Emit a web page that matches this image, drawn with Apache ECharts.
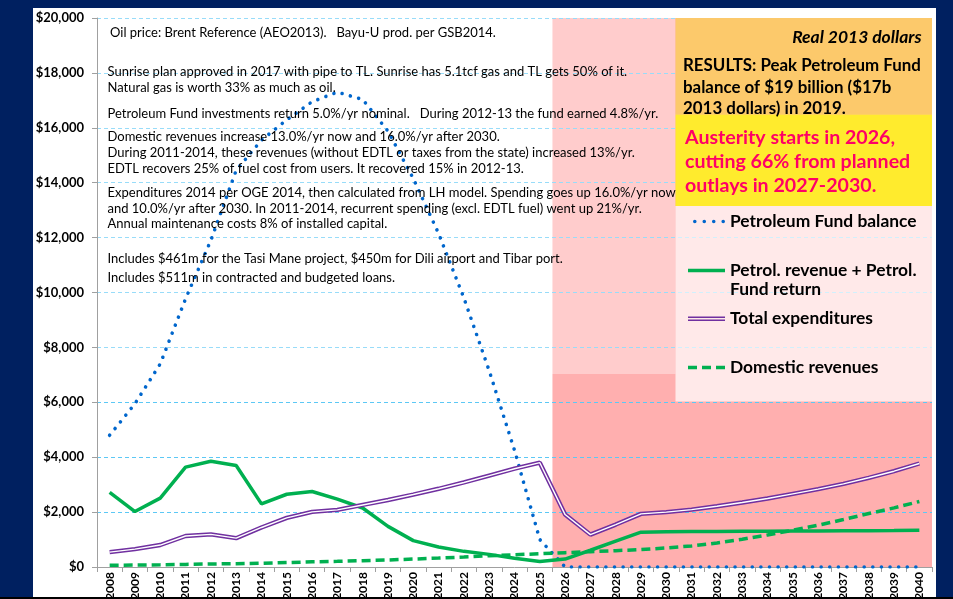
<!DOCTYPE html>
<html>
<head>
<meta charset="utf-8">
<title>Petroleum Fund balance, revenues and expenditures</title>
<script src="https://cdn.jsdelivr.net/npm/echarts@6/dist/echarts.min.js"></script>
<style>
  html, body { margin: 0; padding: 0; background: #002060; }
  #chart { width: 953px; height: 599px; }
</style>
</head>
<body>
<div id="chart"></div>
<script>
// ---- data (millions, real 2013 dollars) ----
var years = ['2008','2009','2010','2011','2012','2013','2014','2015','2016','2017','2018',
  '2019','2020','2021','2022','2023','2024','2025','2026','2027','2028','2029','2030',
  '2031','2032','2033','2034','2035','2036','2037','2038','2039','2040'];
var fundBalance = [4800, 5950, 7400, 9770, 11900, 14450, 15550, 16290, 16950, 17300, 17030,
  15880, 14150, 12150, 9800, 7150, 4250, 1000, 0, 0, 0, 0, 0, 0, 0, 0, 0, 0, 0, 0, 0, 0, 0];
var petrolRevenue = [2720, 2020, 2510, 3640, 3850, 3700, 2300, 2650, 2750, 2470, 2150,
  1480, 960, 730, 570, 460, 320, 200, 290, 610, 940, 1270, 1280, 1290, 1295, 1300, 1305,
  1310, 1315, 1320, 1325, 1330, 1340];
var totalExpenditures = [540, 650, 800, 1130, 1190, 1050, 1440, 1790, 2010, 2080, 2260,
  2440, 2640, 2850, 3080, 3330, 3580, 3800, 1910, 1180, 1545, 1935, 2000, 2090, 2215, 2350,
  2495, 2665, 2835, 3030, 3250, 3490, 3770];
var domesticRevenues = [60, 70, 80, 95, 110, 120, 135, 160, 190, 205, 230, 255, 290, 325,
  365, 410, 445, 485, 523, 560, 596, 633, 694, 767, 876, 1010, 1168, 1339, 1521, 1728,
  1947, 2154, 2385];
var austerityStart = '2026';
var yMax = 20000, yStep = 2000;

var seriesNames = ['Petroleum Fund balance', 'Petrol. revenue + Petrol. Fund return',
  'Total expenditures', 'Domestic revenues'];

var notes = [
  'Oil price: Brent Reference (AEO2013).   Bayu-U prod. per GSB2014.',
  'Sunrise plan approved in 2017 with pipe to TL. Sunrise has 5.1tcf gas and TL gets 50% of it.',
  'Natural gas is worth 33% as much as oil.',
  'Petroleum Fund investments return 5.0%/yr nominal.   During 2012-13 the fund earned 4.8%/yr.',
  'Domestic revenues increase 13.0%/yr now and 16.0%/yr after 2030.',
  'During 2011-2014, these revenues (without EDTL or taxes from the state) increased 13%/yr.',
  'EDTL recovers 25% of fuel cost from users. It recovered 15% in 2012-13.',
  'Expenditures 2014 per OGE 2014, then calculated from LH model. Spending goes up 16.0%/yr now',
  'and 10.0%/yr after 2030. In 2011-2014, recurrent spending (excl. EDTL fuel) went up 21%/yr.',
  'Annual maintenance costs 8% of installed capital.',
  'Includes $461m for the Tasi Mane project, $450m for Dili airport and Tibar port.',
  'Includes $511m in contracted and budgeted loans.'
];
var unitsNote = 'Real 2013 dollars';
var resultLines = ['RESULTS: Peak Petroleum Fund', 'balance of $19 billion ($17b', '2013 dollars) in 2019.'];
var austerityLines = ['Austerity starts in 2026,', 'cutting 66% from planned', 'outlays in 2027-2030.'];

// ---- layout ----
var FONT = 'Lato';
var noteY = [33.3, 72.3, 88, 114.3, 137.3, 152.7, 168.7, 193.3, 208.7, 224, 259, 278.3];
var legendY = [220, 269, 317.3, 366];

function txt(x, y, text, font, fill, align) {
  return { type: 'text', x: x, y: y, z: 10, silent: true,
    style: { text: text, font: font, fill: fill || '#000', align: align || 'left', verticalAlign: 'middle' } };
}
function box(x, y, w, h, fill, z) {
  return { type: 'rect', z: z, silent: true, shape: { x: x, y: y, width: w, height: h }, style: { fill: fill } };
}

var graphics = [
  box(33, 8, 903, 589, '#ffffff', -10),
  box(98, 18, 577.5, 356, 'rgba(255,255,255,0.37)', 3),
  box(675.5, 18, 256.5, 96.5, '#FCC96B', 3),
  box(675.5, 114.5, 256.5, 91.5, '#FFEB2D', 3),
  box(675.5, 206, 256.5, 195.5, 'rgba(255,255,255,0.72)', 3),
  box(0, 597, 953, 2, '#000000', 20)
];
notes.forEach(function (t, i) {
  graphics.push(txt(i === 0 ? 110 : 107.5, noteY[i], t, '13px ' + FONT));
});
graphics.push(txt(921.5, 37.7, unitsNote, 'italic bold 17.5px ' + FONT, '#000', 'right'));
resultLines.forEach(function (t, i) {
  graphics.push(txt(683, 66 + i * 21.2, t, 'bold 16.9px ' + FONT));
});
austerityLines.forEach(function (t, i) {
  graphics.push(txt(685, 137.7 + i * 24, t, 'bold 19.6px ' + FONT, '#FF0066'));
});
graphics.push(txt(730, legendY[1] + 20.3, 'Fund return', 'bold 17.4px ' + FONT));

// legend icons drawn as paths so they match the line styles of the series
var ICON_DOTS = 'path://M0,1.8a1.8,1.8 0 1,0 3.6,0a1.8,1.8 0 1,0 -3.6,0Z' +
  'M9.5,1.8a1.8,1.8 0 1,0 3.6,0a1.8,1.8 0 1,0 -3.6,0Z' +
  'M19,1.8a1.8,1.8 0 1,0 3.6,0a1.8,1.8 0 1,0 -3.6,0Z' +
  'M28.5,1.8a1.8,1.8 0 1,0 3.6,0a1.8,1.8 0 1,0 -3.6,0Z';
var ICON_SOLID = 'path://M0,0H37V3.5H0Z';
var ICON_DOUBLE = 'path://M0,0H37V1.5H0Z M0,3H37V4.5H0Z';
var ICON_DASH = 'path://M0,0H9V3.5H0Z M14,0H23V3.5H14Z M28,0H37V3.5H28Z';

function legendFor(i, icon, color, width) {
  return {
    orient: 'vertical', left: 725 - width, top: legendY[i] - 7, padding: 0,
    itemWidth: width, itemHeight: 14, selectedMode: false, z: 4,
    data: [{ name: seriesNames[i], icon: icon }],
    itemStyle: { color: color, borderWidth: 0 },
    formatter: function (name) { return i === 1 ? 'Petrol. revenue + Petrol.' : name; },
    textStyle: { fontFamily: FONT, fontWeight: 'bold', fontSize: 17.4, color: '#000' }
  };
}

var chart = echarts.init(document.getElementById('chart'));
chart.setOption({
  backgroundColor: '#002060',
  animation: false,
  grid: { left: 97, right: 21, top: 18, bottom: 32, containLabel: false, outerBoundsMode: 'none' },
  xAxis: [{
    type: 'category', data: years, boundaryGap: true,
    axisLine: { lineStyle: { color: '#A0A0A0', width: 1 } },
    axisTick: { show: true, length: 5, lineStyle: { color: '#A0A0A0' } },
    axisLabel: { interval: 0, rotate: 90, margin: 5, color: '#000', fontFamily: FONT, fontWeight: 'bold', fontSize: 12 },
    splitLine: { show: false }
  }, {
    type: 'value', min: 0, max: years.length, show: false
  }],
  yAxis: {
    type: 'value', min: 0, max: yMax, interval: yStep,
    axisLine: { show: true, lineStyle: { color: '#A0A0A0' } },
    axisTick: { show: true, length: 5, lineStyle: { color: '#A0A0A0' } },
    axisLabel: { margin: 13, color: '#000', fontFamily: FONT, fontWeight: 'bold', fontSize: 13,
      formatter: function (v) { return '$' + v.toLocaleString('en-US'); } },
    splitLine: { show: true, lineStyle: { color: '#5CC8F5', type: [4, 3], width: 1 } }
  },
  legend: [
    legendFor(0, ICON_DOTS, '#0066CC', 32),
    legendFor(1, ICON_SOLID, '#00B050', 37),
    legendFor(2, ICON_DOUBLE, '#7030A0', 37),
    legendFor(3, ICON_DASH, '#00B050', 37)
  ],
  graphic: { elements: graphics },
  series: [
    {
      name: 'austerity', type: 'line', xAxisIndex: 1, data: [], silent: true,
      markArea: { silent: true, z: -1, itemStyle: { color: '#FFAFAF' },
        data: [[{ xAxis: years.indexOf(austerityStart), yAxis: 0 }, { xAxis: years.length, yAxis: yMax }]] }
    },
    {
      name: seriesNames[0], type: 'line', data: fundBalance, symbol: 'none', color: '#0066CC',
      lineStyle: { color: '#0066CC', width: 3.6, type: [0.01, 8.6], cap: 'round' }
    },
    {
      name: seriesNames[1], type: 'line', data: petrolRevenue, symbol: 'none', color: '#00B050',
      lineStyle: { color: '#00B050', width: 3.5 }
    },
    {
      name: seriesNames[2], type: 'line', data: totalExpenditures, symbol: 'none', color: '#7030A0',
      lineStyle: { color: '#7030A0', width: 4.4 }
    },
    {
      name: 'Total expenditures (inner)', type: 'line', data: totalExpenditures, symbol: 'none',
      lineStyle: { color: '#ffffff', width: 1.4 }
    },
    {
      name: seriesNames[3], type: 'line', data: domesticRevenues, symbol: 'none', color: '#00B050',
      lineStyle: { color: '#00B050', width: 3.5, type: [9, 5] }
    }
  ]
});
</script>
</body>
</html>
